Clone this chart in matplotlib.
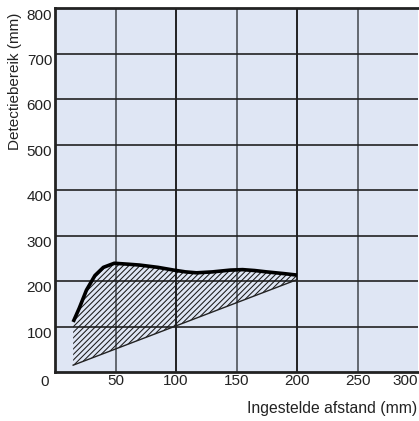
import matplotlib
matplotlib.use("Agg")
import matplotlib.pyplot as plt
import matplotlib.transforms as mtransforms
import numpy as np

plt.rcParams['font.family'] = ['Liberation Sans', 'DejaVu Sans']
plt.rcParams['hatch.linewidth'] = 0.75

# Data
upper_x = [15, 20, 26, 33, 40, 49, 60, 70, 85, 98, 108, 117, 130, 145, 155, 165, 175, 190, 200]
upper_y = [110, 140, 180, 212, 230, 239, 237, 235, 230, 224, 220, 218, 220, 224, 225, 223, 220, 216, 213]
lower_x = [15, 200]
lower_y = [15, 203]
xticks = [50, 100, 150, 200, 250, 300]
yticks = [100, 200, 300, 400, 500, 600, 700, 800]

W, H = 419, 421
fig = plt.figure(figsize=(W/100, H/100), dpi=100)
ax = fig.add_axes([55/W, 1-372/H, (418-55)/W, (372-8)/H])
ax.set_facecolor('#dfe6f4')
ax.set_xlim(0, 300)
ax.set_ylim(0, 800)

# grid
for xv in xticks[:-1]:
    ax.axvline(xv, color='#5a5e66' if xv % 100 else '#111111', lw=1.3, zorder=1)
for yv in yticks[:-1]:
    ax.axhline(yv, color='#222222', lw=1.2, zorder=1)

# hatched region
lx = np.array(upper_x, dtype=float)
ly_low = np.interp(lx, lower_x, lower_y)
ax.fill_between(lx, ly_low, upper_y, facecolor='none', edgecolor='#1a1a1a',
                hatch='//////', lw=0, zorder=2)
ax.plot(lower_x, lower_y, color='#222222', lw=1.0, zorder=3)
ax.plot(upper_x, upper_y, color='black', lw=2.6, zorder=4, solid_capstyle='butt')

ax.set_xticks(xticks)
ax.set_yticks(yticks)
ax.tick_params(length=0, labelsize=11, colors='#222222', pad=3)
ax.tick_params(axis='y', pad=2)

offy = mtransforms.ScaledTranslation(0, -0.06, fig.dpi_scale_trans)
for lbl in ax.get_yticklabels():
    lbl.set_transform(lbl.get_transform() + offy)
offx = mtransforms.ScaledTranslation(0, 0.02, fig.dpi_scale_trans)
for lbl in ax.get_xticklabels():
    lbl.set_transform(lbl.get_transform() + offx)
ax.get_xticklabels()[-1].set_horizontalalignment('right')

ax.spines['right'].set_visible(False)
for s in ['top', 'left', 'bottom']:
    ax.spines[s].set_linewidth(2)
    ax.spines[s].set_color('#222222')

fig.text(45/W, 1-382/H, '0', ha='center', va='center', fontsize=11, color='#222222')
fig.text(15/W, 1-81/H, 'Detectiebereik (mm)', rotation=90, ha='center', va='center',
         fontsize=11, color='#222222')
fig.text(417/W, 1-409/H, 'Ingestelde afstand (mm)', ha='right', va='center',
         fontsize=11.3, color='#222222')

fig.savefig('out.png', dpi=100, facecolor='white')
